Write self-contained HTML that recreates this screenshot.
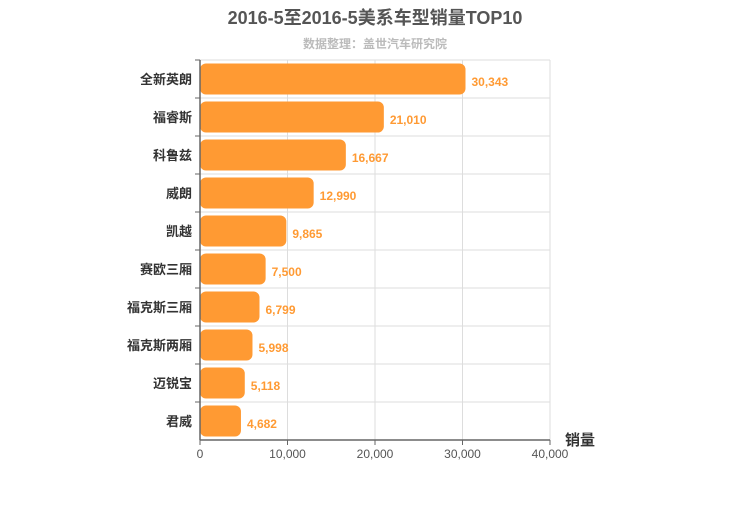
<!DOCTYPE html>
<html><head><meta charset="utf-8"><style>
body{margin:0;background:#fff;}
svg{font-family:"Liberation Sans","Noto Sans CJK SC",sans-serif;}
</style></head><body>
<svg id="c" width="750" height="500">
<text x="375" y="24" text-anchor="middle" font-size="18" font-weight="bold" fill="#555">2016-5至2016-5美系车型销量TOP10</text>
<text x="375" y="48" text-anchor="middle" font-size="12" font-weight="bold" fill="#bbb">数据整理：盖世汽车研究院</text>
<text x="565" y="445" font-size="15" font-weight="bold" fill="#333">销量</text>
<g id="g"></g>
</svg>
<script>
const categories=["全新英朗","福睿斯","科鲁兹","威朗","凯越","赛欧三厢","福克斯三厢","福克斯两厢","迈锐宝","君威"];
const values=[30343,21010,16667,12990,9865,7500,6799,5998,5118,4682];
const ticks=[0,10000,20000,30000,40000];
const NS="http://www.w3.org/2000/svg",g=document.getElementById('g');
const X0=200,X1=550,Y0=60,Y1=440,MAX=40000;
const xs=v=>X0+(X1-X0)*v/MAX, rh=(Y1-Y0)/categories.length;
function el(t,a){const e=document.createElementNS(NS,t);for(const k in a)e.setAttribute(k,a[k]);g.appendChild(e);return e;}
for(let i=0;i<=categories.length;i++){const l=el('line',{x1:X0,x2:X1,y1:Y0+i*rh,y2:Y0+i*rh,stroke:'#ddd'});

}
ticks.forEach(t=>{const l=el('line',{x1:xs(t),x2:xs(t),y1:Y0,y2:Y1,stroke:'#ddd'});


const tk=el('line',{x1:xs(t),x2:xs(t),y1:Y1,y2:Y1+5,stroke:'#666'});


const tx=el('text',{x:xs(t),y:Y1+18,'text-anchor':'middle','font-size':12,fill:'#555'});
tx.textContent=t.toLocaleString('en-US');

});
categories.forEach((c,i)=>{const y=Y0+i*rh;
const tk=el('line',{x1:X0-5,x2:X0,y1:y,y2:y,stroke:'#666'});


const b=el('rect',{x:X0,y:y+3.5,width:xs(values[i])-X0,height:rh-7,rx:6,fill:'#ff9a33'});


const lb=el('text',{x:X0-8,y:y+rh/2+5,'text-anchor':'end','font-size':13,'font-weight':'bold',fill:'#333'});
lb.textContent=c;


const v=el('text',{x:xs(values[i])+6,y:y+rh/2+7,'font-size':12,'font-weight':'bold',fill:'#ff9a33'});
v.textContent=values[i].toLocaleString('en-US');

});
const ya=el('line',{x1:X0,x2:X0,y1:Y0,y2:Y1,stroke:'#666','stroke-width':1.5});


const xa=el('line',{x1:X0,x2:X1,y1:Y1,y2:Y1,stroke:'#666','stroke-width':1.5});


</script>
</body></html>
